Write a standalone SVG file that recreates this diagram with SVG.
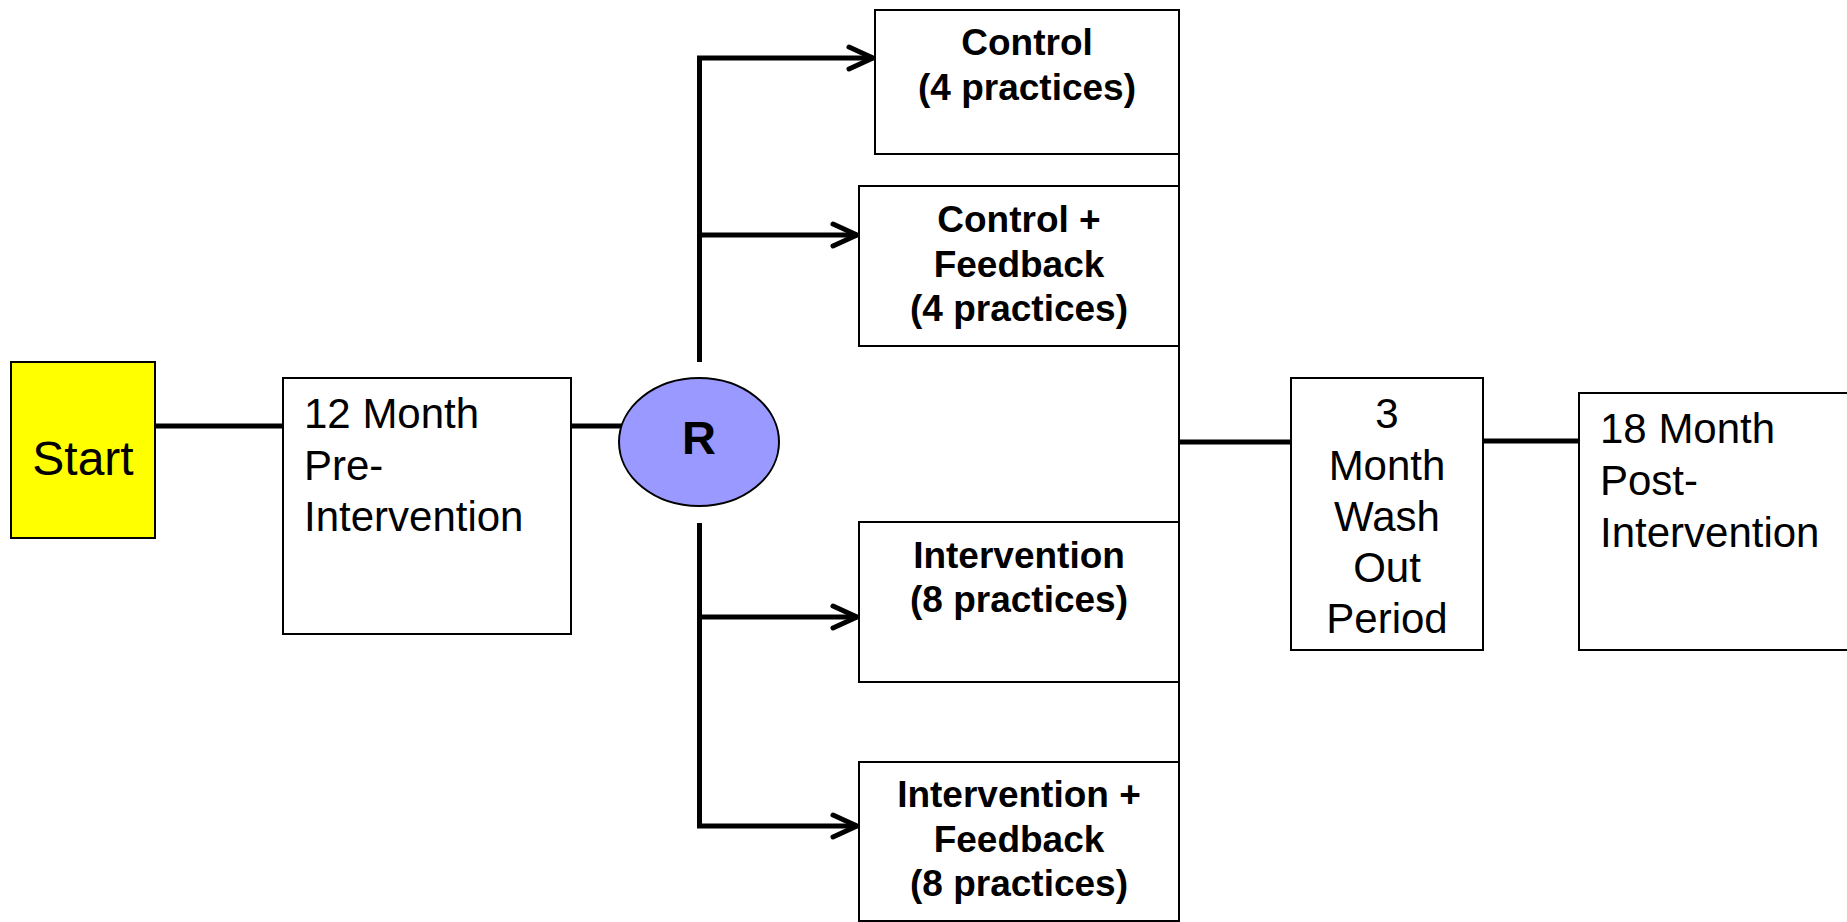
<svg xmlns="http://www.w3.org/2000/svg" width="1847" height="922" viewBox="0 0 1847 922">
<style>
.box{fill:#fff;stroke:#000;stroke-width:2}
.conn{fill:none;stroke:#000;stroke-width:5}
.thin{fill:none;stroke:#000;stroke-width:2}
.reg{font-family:"Liberation Sans",Arial,sans-serif;font-size:42px;fill:#000}
.bold{font-family:"Liberation Sans",Arial,sans-serif;font-size:37px;font-weight:bold;fill:#000;text-anchor:middle}
.mid{text-anchor:middle}
</style>
<defs>
<marker id="arr" markerUnits="userSpaceOnUse" markerWidth="30" markerHeight="30" viewBox="0 0 30 30" refX="26" refY="15" orient="auto" overflow="visible">
<path d="M2,4 L26,15 L2,26" fill="none" stroke="#000" stroke-width="5" stroke-linecap="round" stroke-linejoin="miter"/>
</marker>
</defs>
<rect width="1847" height="922" fill="#fff"/>
<g id="connectors">
<line class="conn" x1="155" y1="426" x2="283" y2="426"/>
<line class="conn" x1="571" y1="426" x2="622" y2="426"/>
<path class="conn" d="M699.5,362 V58 H873" marker-end="url(#arr)"/>
<path class="conn" d="M699.5,235 H857" marker-end="url(#arr)"/>
<path class="conn" d="M699.5,617 H857" marker-end="url(#arr)"/>
<path class="conn" d="M699.5,523 V826 H857" marker-end="url(#arr)"/>
<line class="thin" x1="1179" y1="150" x2="1179" y2="766"/>
<line class="conn" x1="1179" y1="442" x2="1291" y2="442"/>
<line class="conn" x1="1483" y1="441" x2="1579" y2="441"/>
</g>
<g id="start">
<rect x="11" y="362" width="144" height="176" fill="#ffff00" stroke="#000" stroke-width="2"/>
<text class="reg mid" x="83" y="475" style="font-size:48px">Start</text>
</g>
<g id="pre">
<rect class="box" x="283" y="378" width="288" height="256"/>
<text class="reg" x="304" y="428">12 Month</text>
<text class="reg" x="304" y="480">Pre-</text>
<text class="reg" x="304" y="531">Intervention</text>
</g>
<g id="random">
<ellipse cx="699" cy="442" rx="80" ry="64" fill="#9999ff" stroke="#000" stroke-width="2"/>
<text class="bold" x="699" y="454" style="font-size:47px">R</text>
</g>
<g id="control">
<rect class="box" x="875" y="10" width="304" height="144"/>
<text class="bold" x="1027" y="55">Control</text>
<text class="bold" x="1027" y="100">(4 practices)</text>
</g>
<g id="control-feedback">
<rect class="box" x="859" y="186" width="320" height="160"/>
<text class="bold" x="1019" y="232">Control +</text>
<text class="bold" x="1019" y="277">Feedback</text>
<text class="bold" x="1019" y="321">(4 practices)</text>
</g>
<g id="intervention">
<rect class="box" x="859" y="522" width="320" height="160"/>
<text class="bold" x="1019" y="568">Intervention</text>
<text class="bold" x="1019" y="612">(8 practices)</text>
</g>
<g id="intervention-feedback">
<rect class="box" x="859" y="762" width="320" height="159"/>
<text class="bold" x="1019" y="807">Intervention +</text>
<text class="bold" x="1019" y="852">Feedback</text>
<text class="bold" x="1019" y="896">(8 practices)</text>
</g>
<g id="washout">
<rect class="box" x="1291" y="378" width="192" height="272"/>
<text class="reg mid" x="1387" y="428">3</text>
<text class="reg mid" x="1387" y="480">Month</text>
<text class="reg mid" x="1387" y="531">Wash</text>
<text class="reg mid" x="1387" y="582">Out</text>
<text class="reg mid" x="1387" y="633">Period</text>
</g>
<g id="post">
<rect class="box" x="1579" y="393" width="300" height="257"/>
<text class="reg" x="1600" y="443">18 Month</text>
<text class="reg" x="1600" y="495">Post-</text>
<text class="reg" x="1600" y="547">Intervention</text>
</g>
</svg>
